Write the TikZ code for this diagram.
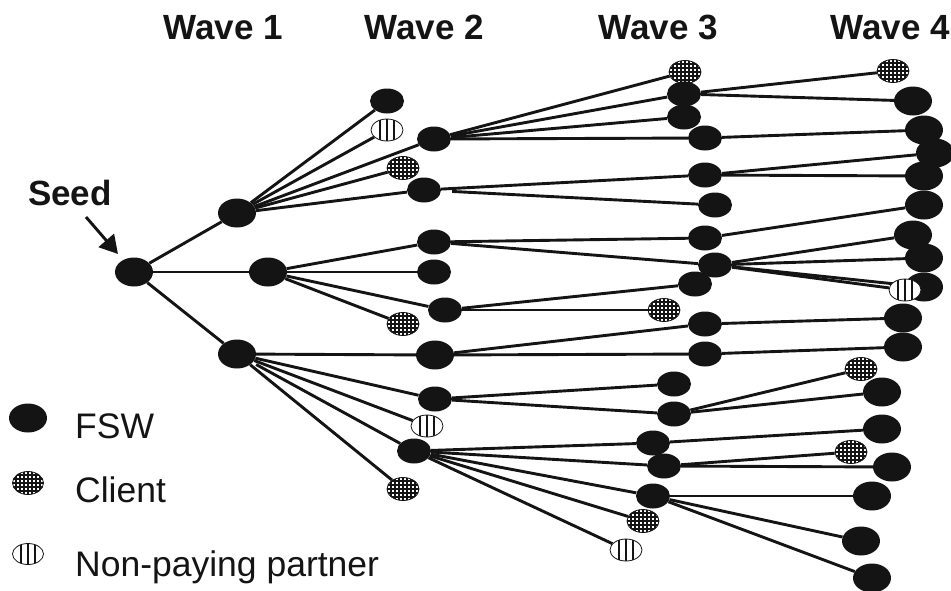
\documentclass[tikz,border=0pt]{standalone}
\usepackage{fontspec}
\setmainfont{Liberation Sans}
\usetikzlibrary{shapes.geometric,arrows.meta,backgrounds}
\begin{document}
\begin{tikzpicture}[x=1pt,y=-1pt,
 fsw/.style={ellipse,fill=black!92,inner sep=0,minimum width=38pt,minimum height=29pt},
 fsws/.style={ellipse,fill=black!92,inner sep=0,minimum width=34pt,minimum height=25pt},
 client/.style={ellipse,draw=black!92,fill=white,line width=0.8pt,inner sep=0,minimum width=32pt,minimum height=23pt,
   path picture={\foreach \i in {-5,...,5}{
     \draw[line width=1.3pt,black!92] ([xshift=\i*4pt,yshift=-15pt]path picture bounding box.center) -- ([xshift=\i*4pt,yshift=15pt]path picture bounding box.center);
     \draw[line width=1.3pt,black!92] ([xshift=-20pt,yshift=\i*4pt]path picture bounding box.center) -- ([xshift=20pt,yshift=\i*4pt]path picture bounding box.center);}}},
 np/.style={ellipse,draw=black!92,fill=white,line width=0.8pt,inner sep=0,minimum width=32pt,minimum height=22pt,
   path picture={\foreach \i in {-7,0,7}{\draw[line width=1.4pt,black!92] ([xshift=\i*1pt,yshift=-12pt]path picture bounding box.center) -- ([xshift=\i*1pt,yshift=12pt]path picture bounding box.center);}}},
 link/.style={line width=2.9pt,black!92},
 title/.style={font=\fontsize{35}{40}\selectfont\bfseries,inner sep=0,anchor=base,text=black!92},
 legend/.style={font=\fontsize{35.5}{40}\selectfont,inner sep=0,anchor=base west,text=black!92}]
\useasboundingbox (0,0) rectangle (951,590);

% titles
\node[title] (t1) at (223,39) {Wave 1};
\node[title] (t2) at (424,39) {Wave 2};
\node[title] (t3) at (658,39) {Wave 3};
\node[title] (t4) at (890,39) {Wave 4};
\node[title] (seedlbl) at (70,205) {Seed};

% legend
\node[fsw] (lf) at (28,418) {};
\node[client,minimum width=31pt] (lc) at (28,483) {};
\node[np,minimum width=31pt,minimum height=21pt] (ln) at (28,554) {};
\node[legend] (lft) at (75,438) {FSW};
\node[legend] (lct) at (75,502) {Client};
\node[legend] (lnt) at (75,576) {Non-paying partner};

% seed and wave 1
\node[fsw] (s) at (134,272) {};
\node[fsw] (a1) at (237,213) {};
\node[fsw] (a2) at (268,272) {};
\node[fsw] (a3) at (237,354) {};

% wave 2
\node[fsws] (b1) at (387,101) {};
\node[np] (b2) at (387,130) {};
\node[fsws] (b3) at (434,139) {};
\node[client] (b4) at (403,168) {};
\node[fsws] (b5) at (424,190) {};
\node[fsws] (b6) at (434,242) {};
\node[fsws] (b7) at (434,272) {};
\node[fsws] (b8) at (445,310) {};
\node[client] (b9) at (403,324) {};
\node[fsw] (b10) at (435,355) {};
\node[fsws] (b11) at (435,399) {};
\node[np] (b12) at (427,426) {};
\node[fsws] (b13) at (414,451) {};
\node[client] (b14) at (403,489) {};

% wave 3
\node[client] (c1) at (685,72) {};
\node[fsws] (c2) at (684,94) {};
\node[fsws] (c3) at (684,117) {};
\node[fsws] (c4) at (705,138) {};
\node[fsws] (c5) at (705,175) {};
\node[fsws] (c6) at (715,205) {};
\node[fsws] (c7) at (705,238) {};
\node[fsws] (c8) at (715,265) {};
\node[fsws] (c9) at (695,284) {};
\node[client] (c10) at (664,310) {};
\node[fsws] (c11) at (705,324) {};
\node[fsws] (c12) at (705,354) {};
\node[fsws] (c13) at (674,384) {};
\node[fsws] (c14) at (674,414) {};
\node[fsws] (c15) at (653,443) {};
\node[fsws] (c16) at (664,466) {};
\node[fsws] (c17) at (653,496) {};
\node[client] (c18) at (643,521) {};
\node[np] (c19) at (626,550) {};

% wave 4
\node[client] (d1) at (893,71) {};
\node[fsw] (d2) at (913,101) {};
\node[fsw] (d3) at (924,130) {};
\node[fsw] (d4) at (935,153) {};
\node[fsw] (d5) at (924,176) {};
\node[fsw] (d6) at (924,205) {};
\node[fsw] (d7) at (913,235) {};
\node[fsw] (d8) at (924,258) {};
\node[fsw] (d9) at (924,287) {};
\node[np] (d10) at (905,290) {};
\node[fsw] (d11) at (903,318) {};
\node[fsw] (d12) at (903,347) {};
\node[client] (d13) at (861,369) {};
\node[fsw] (d14) at (882,392) {};
\node[fsw] (d15) at (882,429) {};
\node[client] (d16) at (851,452) {};
\node[fsw] (d17) at (892,467) {};
\node[fsw] (d18) at (872,496) {};
\node[fsw] (d19) at (861,541) {};
\node[fsw] (d20) at (872,578) {};

% arrow
\coordinate (arrA) at (86,217);
\coordinate (arrB) at (118,254);
\draw[link,-{Triangle[length=18pt,width=20pt]}] (arrA) -- (arrB);

\begin{scope}[on background layer]
\draw[link] (s) -- (a1);
\draw[link] (s) -- (a2);
\draw[link] (s) -- (a3);
\foreach \t in {b1,b2,b3,b4,b5} \draw[link] (a1) -- (\t);
\foreach \t in {b6,b7,b8,b9} \draw[link] (a2) -- (\t);
\foreach \t in {b10,b11,b12,b14} \draw[link] (a3) -- (\t);
\draw[link,shorten <=4pt] (a3) -- (b13);
\foreach \t in {c1,c2,c3,c4} \draw[link] (b3) -- (\t);
\draw[link] (b5) -- (c5);
\draw[link,shorten <=11pt] (b5) -- (c6);
\foreach \t in {c7,c8} \draw[link] (b6) -- (\t);
\foreach \t in {c9,c10} \draw[link] (b8) -- (\t);
\foreach \t in {c11,c12} \draw[link] (b10) -- (\t);
\foreach \t in {c13,c14} \draw[link] (b11) -- (\t);
\foreach \t in {c15,c16,c17,c18,c19} \draw[link] (b13) -- (\t);
\foreach \t in {d1,d2} \draw[link] (c2) -- (\t);
\draw[link] (c4) -- (d3);
\foreach \t in {d4,d5} \draw[link] (c5) -- (\t);
\draw[link] (c7) -- (d6);
\foreach \t in {d7,d8,d9,d10} \draw[link] (c8) -- (\t);
\draw[link] (c11) -- (d11);
\draw[link] (c12) -- (d12);
\foreach \t in {d13,d14} \draw[link] (c14) -- (\t);
\draw[link] (c15) -- (d15);
\foreach \t in {d16,d17} \draw[link] (c16) -- (\t);
\foreach \t in {d18,d19,d20} \draw[link] (c17) -- (\t);
\end{scope}
\end{tikzpicture}
\end{document}
